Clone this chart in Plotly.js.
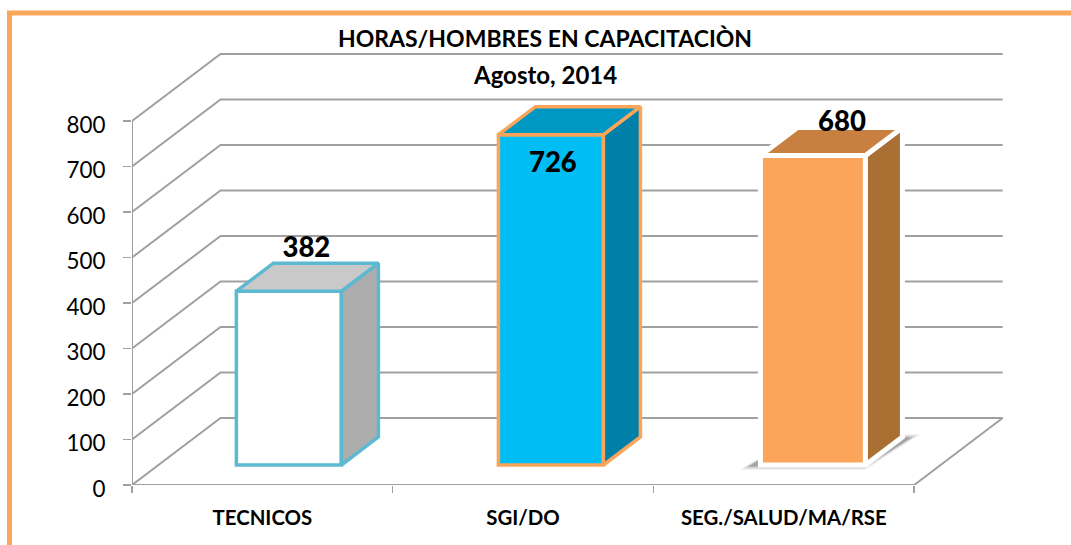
<!DOCTYPE html>
<html><head><meta charset="utf-8">
<script src="https://cdn.plot.ly/plotly-3.0.1.min.js"></script>
<style>html,body{margin:0;padding:0;background:#fff;overflow:hidden}</style>
</head><body><div id="chart" style="width:1071px;height:545px"></div>
<script>
// ---- data ----
const categories = ['TECNICOS', 'SGI/DO', 'SEG./SALUD/MA/RSE'];
const values = [382, 726, 680];
const yTicks = [0, 100, 200, 300, 400, 500, 600, 700, 800];
const categoryEdges = [0, 1, 2, 3];
const categoryCentres = [0.5, 1.5, 2.5];
const titleLine = 'HORAS/HOMBRES EN CAPACITACIÒN';
const subtitleLine = 'Agosto, 2014';

// ---- styles ----
const frontFill = ['#FFFFFF', '#00BDF4', '#FAA55A'];
const topFill = ['#C9C9C9', '#0098C3', '#C78040'];
const sideFill = ['#ADADAD', '#0080A8', '#AA6F33'];
const edgeColor = ['#5BB9D1', '#FAA55A', '#FFFFFF'];
const edgeWidth = [3.5, 3.5, 5];
const GRID = '#A0A0A0', FRAME = '#FAA75C', FONT = 'Lato, "Open Sans", sans-serif';

// ---- geometry: axis scale and pseudo-3D depth, in axis units ----
const pxPerCat = 260.67, pxPerVal = 0.455;
const L = 132, ZERO = 485, TOP = 50;
const xMax = 3.36, yMax = (ZERO - TOP) / pxPerVal;
const plotW = xMax * pxPerCat, plotH = ZERO - TOP;
const wallDX = 88.5 / pxPerCat, wallDY = 67 / pxPerVal;      // back wall offset
const barLift = 20 / pxPerVal, barShift = 26 / pxPerCat;     // bar sits inside the floor
const barDX = 37 / pxPerCat, barDY = 28 / pxPerVal;          // bar depth
const barW = 105 / pxPerCat;
const barX = categories.map((c, i) => 0.502 + i * 1.005 + barShift);
const labelDX = [17.5, 2, 29].map(p => p / pxPerCat);
const labelDY = [41, -30, 31].map(p => p / pxPerVal);

const poly = (xs, ys) => 'M' + xs.map((x, i) => x + ',' + ys[i]).join('L');
const pX = px => (px - L) / plotW, pY = py => (ZERO - py) / plotH;

const shapes = [];
// side walls and back gridlines
yTicks.forEach(v => shapes.push({
  type: 'path', xref: 'x', yref: 'y', layer: 'below',
  path: poly([0, wallDX, 3 + wallDX], [v, v + wallDY, v + wallDY]),
  line: {color: GRID, width: 2}
}));
// floor front and right edges, vertical axis
shapes.push({type: 'path', xref: 'x', yref: 'y', layer: 'below',
  path: poly([3 + wallDX, 3, 0, 0], [wallDY, 0, 0, yTicks[yTicks.length - 1]]),
  line: {color: GRID, width: 2}});
// soft shadow under the third bar
[[0, .05], [3, .08], [6, .12], [9, .16]].forEach(([inset, a]) => {
  const x = barX[2], i = inset / pxPerCat, j = inset * 0.4 / pxPerVal;
  const xs = [x - barW / 2 - 21 / pxPerCat + i, x + barW / 2, x + barW / 2 + barDX + 18 / pxPerCat - i,
              x - barW / 2 + barDX];
  const ys = [barLift - 5 / pxPerVal + j, barLift - 5 / pxPerVal + j, barLift + barDY + 3 / pxPerVal - j, barLift + barDY + 3 / pxPerVal - j];
  shapes.push({type: 'path', xref: 'x', yref: 'y', layer: 'below',
    path: poly(xs, ys) + 'Z', fillcolor: 'rgba(0,0,0,' + a + ')', line: {width: 0}});
});
// outer orange frame
shapes.push({type: 'path', xref: 'paper', yref: 'paper', layer: 'below',
  path: poly([pX(9.5), pX(9.5), pX(1071)], [pY(545), pY(13), pY(13)]),
  line: {color: FRAME, width: 5}});

const traces = [];
// front faces: real bars through the axes
traces.push({type: 'bar', x: barX, y: values, base: values.map(() => barLift), width: barW,
  marker: {color: frontFill, line: {color: edgeColor, width: edgeWidth}},
  hoverinfo: 'skip', showlegend: false});
// top and side faces
values.forEach((v, i) => {
  const xl = barX[i] - barW / 2, xr = barX[i] + barW / 2, b = barLift, t = barLift + v;
  traces.push({type: 'scatter', mode: 'lines', fill: 'toself', fillcolor: sideFill[i],
    x: [xr, xr + barDX, xr + barDX, xr, xr], y: [b, b + barDY, t + barDY, t, b],
    line: {color: edgeColor[i], width: edgeWidth[i]}, hoverinfo: 'skip', showlegend: false});
  traces.push({type: 'scatter', mode: 'lines', fill: 'toself', fillcolor: topFill[i],
    x: [xl, xl + barDX, xr + barDX, xr, xl], y: [t, t + barDY, t + barDY, t, t],
    line: {color: edgeColor[i], width: edgeWidth[i]}, hoverinfo: 'skip', showlegend: false});
});
// value labels
traces.push({type: 'scatter', mode: 'text',
  x: barX.map((x, i) => x + labelDX[i]),
  y: values.map((v, i) => barLift + v + labelDY[i]),
  text: values.map(String), textposition: 'middle center',
  textfont: {family: FONT, size: 27.5, color: '#000', weight: 900},
  cliponaxis: false, hoverinfo: 'skip', showlegend: false});

const layout = {
  width: 1071, height: 545, autosize: false,
  margin: {l: L, r: 1071 - L - plotW, t: TOP, b: 545 - ZERO, pad: 0},
  paper_bgcolor: '#fff', plot_bgcolor: 'rgba(0,0,0,0)', showlegend: false,
  title: {text: titleLine, x: 545 / 1071, xanchor: 'center', y: 1 - 39 / 545, yanchor: 'middle',
    font: {family: FONT, size: 23, color: '#000', weight: 700}},
  annotations: [{text: subtitleLine, xref: 'paper', yref: 'paper', x: pX(545), y: pY(74),
    xanchor: 'center', yanchor: 'middle', showarrow: false,
    font: {family: FONT, size: 24, color: '#000', weight: 700}}],
  xaxis: {range: [0, xMax], tickmode: 'array', tickvals: categoryCentres, ticktext: categories,
    ticks: '', showgrid: false, zeroline: false, showline: false, ticklabelstandoff: 19,
    tickfont: {family: FONT, size: 20.4, color: '#000', weight: 700},
    minor: {tickmode: 'array', tickvals: categoryEdges, ticks: 'outside', ticklen: 7, tickwidth: 1.5, tickcolor: GRID, showgrid: false}},
  yaxis: {range: [0, yMax], tickmode: 'array', tickvals: yTicks, ticktext: yTicks.map(String),
    ticks: 'outside', ticklen: 8, tickwidth: 1.5, tickcolor: GRID, showgrid: false, zeroline: false, showline: false,
    ticklabelstandoff: 13, ticklabelshift: 4,
    tickfont: {family: FONT, size: 22.4, color: '#000'}},
  shapes: shapes
};
Plotly.newPlot('chart', traces, layout, {displayModeBar: false, staticPlot: true});
</script></body></html>
